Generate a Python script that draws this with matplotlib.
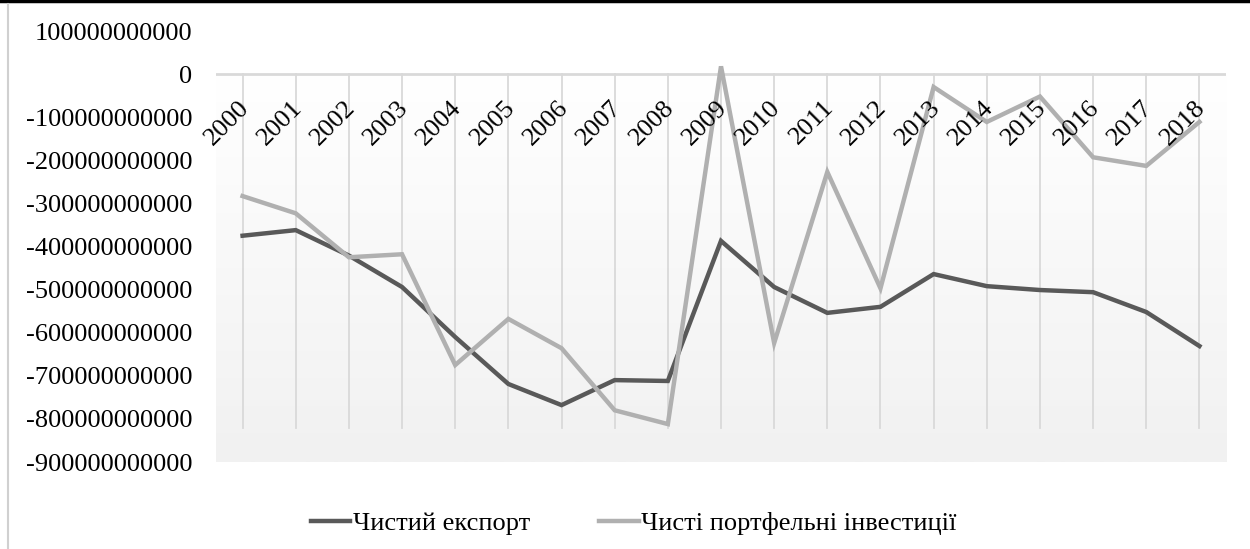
import matplotlib
matplotlib.use("Agg")
import matplotlib.pyplot as plt
import matplotlib.transforms as mtransforms
from matplotlib.lines import Line2D
import numpy as np

years = ["2000", "2001", "2002", "2003", "2004", "2005", "2006", "2007", "2008", "2009",
         "2010", "2011", "2012", "2013", "2014", "2015", "2016", "2017", "2018"]
net_export = [-375e9, -362e9, -421e9, -494e9, -610e9, -719e9, -768e9, -710e9, -712e9, -387e9,
              -494e9, -554e9, -540e9, -464e9, -492e9, -501e9, -506e9, -552e9, -631e9]
net_portfolio = [-283e9, -323e9, -425e9, -418e9, -675e9, -568e9, -636e9, -780e9, -812e9, 18e9,
                 -624e9, -227e9, -497e9, -30e9, -111e9, -52e9, -193e9, -213e9, -111e9]
series_names = ["Чистий експорт", "Чисті портфельні інвестиції"]
y_ticks = [100e9 - 100e9 * k for k in range(11)]

plt.rcParams['font.family'] = ['Liberation Serif', 'DejaVu Serif']

W, H = 1250, 549
fig = plt.figure(figsize=(W / 100, H / 100), dpi=100)
ax = fig.add_axes([216 / W, 1 - 462 / H, (1226 - 216) / W, (462 - 31) / H])

x = np.arange(len(years))
ax.set_xlim(-0.5, len(years) - 0.5)
ax.set_ylim(-900e9, 100e9)

# gradient background (white at zero line -> light gray at bottom)
grad = np.linspace(0, 1, 256).reshape(-1, 1)
cmap = matplotlib.colors.LinearSegmentedColormap.from_list("g", ["#ffffff", "#f1f1f1"])
ax.imshow(grad, aspect='auto', cmap=cmap, extent=(-0.5, len(years) - 0.5, -900e9, 0),
          origin='upper', zorder=0, vmin=0, vmax=1)

# vertical grid lines
for xi in x:
    ax.plot([xi, xi], [0, -820e9], color="#d9d9d9", lw=1.3, zorder=1)
# zero line
ax.axhline(0, color="#d9d9d9", lw=2, zorder=1)

ax.plot(x, net_export, color="#595959", lw=3.2, zorder=3, solid_joinstyle='miter')
ax.plot(x, net_portfolio, color="#b0b0b0", lw=3.2, zorder=3, solid_joinstyle='miter')

for s in ax.spines.values():
    s.set_visible(False)
ax.set_xticks([])
ax.set_yticks(y_ticks)
ax.set_yticklabels([f"{int(round(v)):d}" for v in y_ticks])
ax.tick_params(axis='y', length=0, pad=17, labelsize=19)

# category labels near the zero line
off = mtransforms.ScaledTranslation(3 / 100, -30 / 100, fig.dpi_scale_trans)
for xi, lab in zip(x, years):
    ax.text(xi, 0, lab, rotation=45, ha='right', va='center', rotation_mode='anchor',
            fontsize=19, transform=ax.transData + off, zorder=4)

handles = [Line2D([], [], color="#595959", lw=3.2),
           Line2D([], [], color="#b0b0b0", lw=3.2)]
fig.legend(handles, series_names, loc='center', bbox_to_anchor=(0.507, 1 - 523 / H),
           ncol=2, frameon=False, fontsize=19, handlelength=1.5, handletextpad=0.1,
           columnspacing=2.6)

# frame lines
fig.add_artist(Line2D([0, 1], [1 - 1 / H, 1 - 1 / H], color="black", lw=2.5,
                      transform=fig.transFigure))
fig.add_artist(Line2D([8 / W, 8 / W], [0, 1 - 4 / H], color="#d0d0d0", lw=1.5,
                      transform=fig.transFigure))

fig.savefig("out.png", dpi=100)
